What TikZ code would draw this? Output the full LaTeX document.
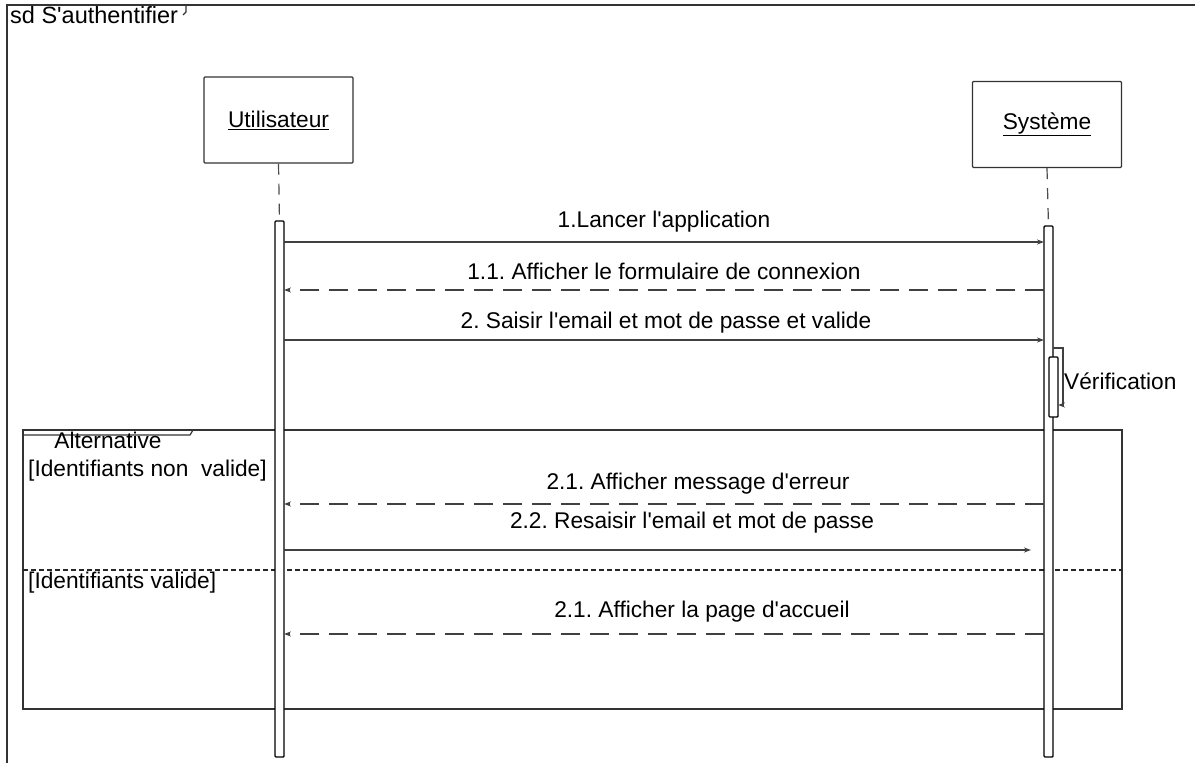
\documentclass[tikz,border=0pt]{standalone}
\usepackage{fontspec}
\setmainfont{Liberation Sans}
\usetikzlibrary{arrows.meta}
\newcommand{\sq}{\textquotesingle}
\frenchspacing
\tikzset{
  lbl/.style={font=\fontsize{22.7}{26}\selectfont, inner sep=0pt, anchor=center},
  participant/.style={draw=black!80, line width=1.2pt, rounded corners=1pt, minimum width=149pt, minimum height=86pt, inner sep=0pt, font=\fontsize{22.7}{26}\selectfont},
  actbar/.style={draw=black, line width=1.4pt, fill=white, rounded corners=1pt},
  lifeline/.style={draw=black!70, line width=1.2pt, dash pattern=on 11pt off 9pt},
  syncmsg/.style={draw=black!75, line width=1.2pt, -{Stealth[length=7pt,width=5pt]}},
  retmsg/.style={draw=black!75, line width=1.2pt, dash pattern=on 19pt off 10pt, -{Stealth[length=7pt,width=5pt]}},
  framel/.style={draw=black!80, line width=1.2pt},
  sepline/.style={draw=black!85, line width=1.1pt, dash pattern=on 5pt off 3pt}
}
\begin{document}
\begin{tikzpicture}[x=1pt,y=-1pt]
\useasboundingbox (0,0) rectangle (1195,763);
\fill[white] (0,0) rectangle (1195,763);
% outer frame
\draw[framel] (7,763) -- (7,5) -- (1195,5);
\draw[framel] (186,5) -- (186,12) -- (183,15);
\node[lbl, anchor=west, font=\fontsize{23.5}{26}\selectfont] (sdlabel) at (10,15) {sd S\sq authentifier};
% participants
\node[participant] (u) at (278.5,120) {\underline{Utilisateur}};
\node[participant] (s) at (1047,124.5) {\underline{Système}};
% alt frame
\draw[framel] (23,430) rectangle (1122,709);
\draw[framel] (23,435) -- (190,435) -- (193,430);
\node[lbl] (alt) at (108,440) {Alternative};
\node[lbl, anchor=west] (g1) at (28,471) {[Identifiants non\ \ valide]};
\node[lbl, anchor=west] (g2) at (28,583) {[Identifiants valide]};
\coordinate (sepL) at (23,570);
\coordinate (sepR) at (1122,570);
\draw[sepline] (sepL) -- (sepR);
% lifelines
\coordinate (ut) at (279.5,221);
\coordinate (st) at (1048.5,226);
\draw[lifeline] (u.south) -- (ut);
\draw[lifeline] (s.south) -- (st);
% activation bars
\draw[actbar] (275,221) rectangle (284,757);
\draw[actbar] (1044,226) rectangle (1053,757);
% self call
\draw[actbar] (1049,357) rectangle (1058,417);
\coordinate (v1) at (1053,348);
\coordinate (v2) at (1058,405);
\draw[syncmsg] (v1) -- (1063,348) -- (1063,405) -- (v2);
\node[lbl, anchor=west] (ver) at (1064,381) {Vérification};
% messages
\coordinate (a1) at (284,242); \coordinate (b1) at (1044,242);
\draw[syncmsg] (a1) -- (b1);
\node[lbl] (l1) at (664,222) {1.Lancer l\sq application};
\coordinate (a2) at (1044,290); \coordinate (b2) at (284,290);
\draw[retmsg] (a2) -- (b2);
\node[lbl] (l2) at (664,271) {1.1. Afficher le formulaire de connexion};
\coordinate (a3) at (284,340); \coordinate (b3) at (1044,340);
\draw[syncmsg] (a3) -- (b3);
\node[lbl] (l3) at (666,323) {2. Saisir l\sq email et mot de passe et valide};
\coordinate (a4) at (1044,504); \coordinate (b4) at (284,504);
\draw[retmsg] (a4) -- (b4);
\node[lbl] (l4) at (698,484) {2.1. Afficher message d\sq erreur};
\coordinate (a5) at (284,550); \coordinate (b5) at (1031,550);
\draw[syncmsg] (a5) -- (b5);
\node[lbl] (l5) at (692,523) {2.2. Resaisir l\sq email et mot de passe};
\coordinate (a6) at (1044,634); \coordinate (b6) at (284,634);
\draw[retmsg] (a6) -- (b6);
\node[lbl] (l6) at (702,612) {2.1. Afficher la page d\sq accueil};
\end{tikzpicture}
\end{document}
